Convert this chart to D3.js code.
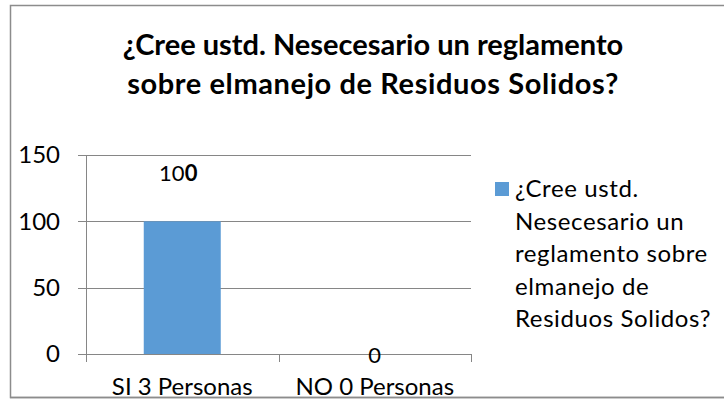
<!DOCTYPE html>
<html>
<head>
<meta charset="UTF-8"/>
<script src="https://d3js.org/d3.v7.min.js"></script>
<style>
body { margin:0; background:#fff; }
text { font-family: Lato, "Open Sans", sans-serif; fill:#000; }
.grid line { stroke:#868686; stroke-width:1; shape-rendering:crispEdges; }
</style>
</head>
<body>
<svg id="chart" width="724" height="400"></svg>
<script>
'use strict';

var titleLines = ['¿Cree ustd. Nesecesario un reglamento', 'sobre elmanejo de Residuos Solidos?'];
var categories = ['SI 3 Personas', 'NO 0 Personas'];
var values = [100, 0];
var yTicks = [0, 50, 100, 150];
var legendLines = ['¿Cree ustd.', 'Nesecesario un', 'reglamento sobre', 'elmanejo de', 'Residuos Solidos?'];

var svg = d3.select('#chart');

// chart frame
svg.append('rect')
	.attr('x', 10.5).attr('y', 5.5)
	.attr('width', 730).attr('height', 392)
	.attr('fill', '#fff')
	.attr('stroke', '#8c8c8c')
	.attr('stroke-width', 1.5);

var pLeft = 86, pRight = 471, pTop = 155, pBottom = 354;

var x = d3.scaleBand().domain(categories).range([pLeft, pRight])
	.paddingInner(0.6).paddingOuter(0.3);
var y = d3.scaleLinear().domain([0, 150]).range([pBottom, pTop]);

// title
svg.append('text')
	.attr('x', 373).attr('y', 55)
	.attr('text-anchor', 'middle')
	.attr('font-size', 29).attr('font-weight', 'bold')
	.selectAll('tspan').data(titleLines).enter()
	.append('tspan')
	.attr('x', 373)
	.attr('dy', function(d, i){ return i ? 39 : 0; })
	.attr('letter-spacing', function(d, i){ return i ? 0.6 : 0; })
	.text(function(d){ return d; });

// gridlines + tick stubs on the left
var grid = svg.append('g').attr('class', 'grid');
grid.selectAll('.h').data(yTicks).enter()
	.append('line')
	.attr('x1', pLeft - 8).attr('x2', pRight)
	.attr('y1', function(d){ return Math.round(y(d)) + 0.5; })
	.attr('y2', function(d){ return Math.round(y(d)) + 0.5; });

// vertical axis
grid.append('line')
	.attr('x1', pLeft + 0.5).attr('x2', pLeft + 0.5)
	.attr('y1', pTop).attr('y2', pBottom + 8);

// category boundary ticks
var bounds = [pLeft, pLeft + x.step(), pRight];
grid.selectAll('.v').data(bounds).enter()
	.append('line')
	.attr('x1', function(d){ return Math.round(d) + 0.5; })
	.attr('x2', function(d){ return Math.round(d) + 0.5; })
	.attr('y1', pBottom).attr('y2', pBottom + 8);

// y labels
svg.selectAll('.ylab').data(yTicks).enter()
	.append('text')
	.attr('x', 60).attr('y', function(d){ return y(d); })
	.attr('dy', '0.35em')
	.attr('text-anchor', 'end')
	.attr('font-size', 24)
	.text(function(d){ return d; });

// bars
svg.selectAll('.bar').data(values).enter()
	.append('rect')
	.attr('x', function(d, i){ return x(categories[i]); })
	.attr('y', function(d){ return y(d); })
	.attr('width', x.bandwidth())
	.attr('height', function(d){ return y(0) - y(d); })
	.attr('fill', '#5b9bd5');

// value labels (last digit bold, as in the source)
var vl = svg.selectAll('.val').data(values).enter()
	.append('text')
	.attr('x', function(d, i){ return x(categories[i]) + x.bandwidth() / 2 - (d ? 4 : 0); })
	.attr('y', function(d){ return d ? y(d) - 40 : y(d) + 9; })
	.attr('text-anchor', 'middle')
	.attr('font-size', 22);
vl.each(function(d){
	var s = String(d);
	var t = d3.select(this);
	if (s.length > 1) {
		t.append('tspan').text(s.slice(0, -1));
		t.append('tspan').attr('font-weight', 'bold').text(s.slice(-1));
	} else {
		t.text(s);
	}
});

// category labels
svg.selectAll('.xlab').data(categories).enter()
	.append('text')
	.attr('x', function(d){ return x(d) + x.bandwidth() / 2; })
	.attr('y', 395)
	.attr('text-anchor', 'middle')
	.attr('font-size', 24)
	.text(function(d){ return d; });

// legend
var lg = svg.append('g').attr('transform', 'translate(495,182)');
lg.append('rect').attr('width', 14).attr('height', 14).attr('fill', '#5b9bd5');
lg.append('text')
	.attr('font-size', 24)
	.attr('letter-spacing', 0.6)
	.selectAll('tspan').data(legendLines).enter()
	.append('tspan')
	.attr('x', 20)
	.attr('y', function(d, i){ return 15 + i * 32.5; })
	.text(function(d){ return d; });

// bottom edge of frame drawn over the labels, like the clipped source
svg.append('line')
	.attr('x1', 10).attr('x2', 724)
	.attr('y1', 397.5).attr('y2', 397.5)
	.attr('stroke', '#8c8c8c').attr('stroke-width', 1.5);
</script>
</body>
</html>
